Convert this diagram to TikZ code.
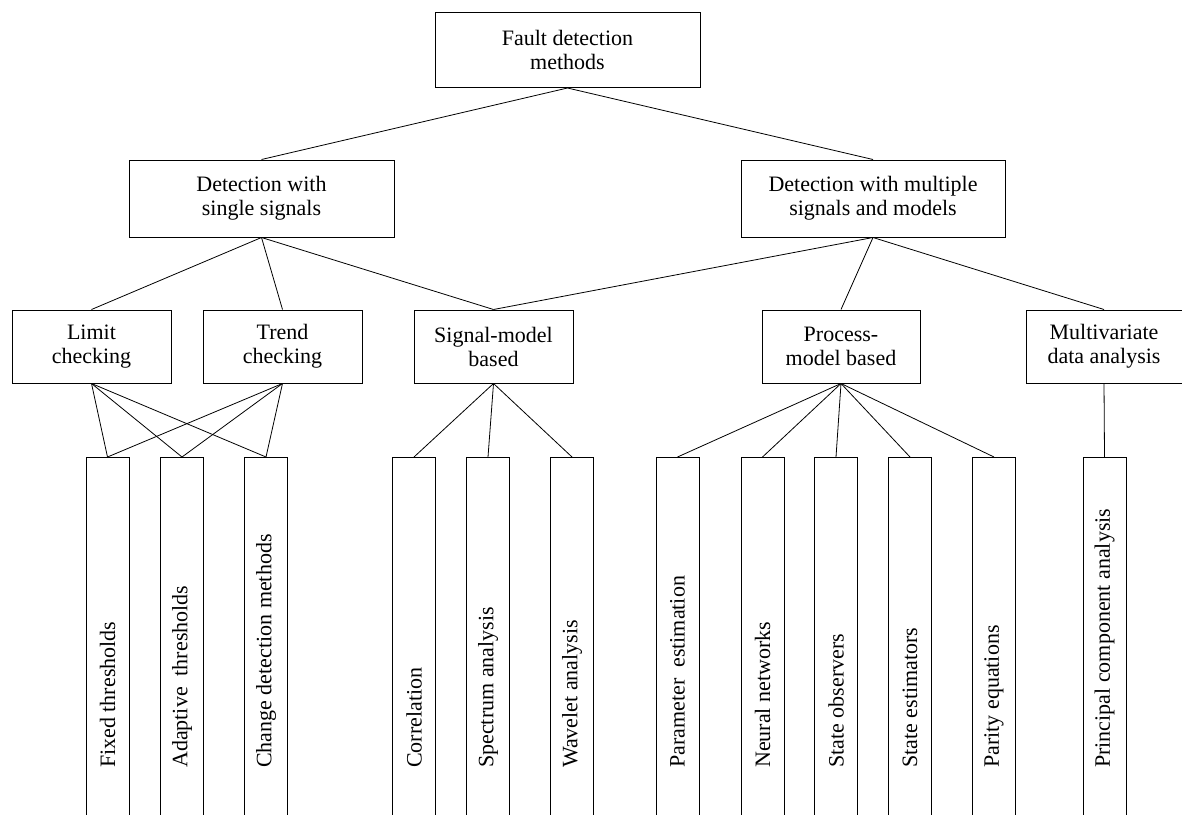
\documentclass[tikz,border=0pt]{standalone}
\usepackage{fontspec}
\setmainfont{Liberation Serif}
\usepackage{tikz}

\begin{document}
\begin{tikzpicture}[
    x=1pt, y=-1pt,
    every node/.style={font=\fontsize{22}{24}\selectfont},
    mainbox/.style={rectangle, draw=black, line width=1pt, minimum width=265pt, minimum height=75pt, align=center},
    subbox/.style={rectangle, draw=black, line width=1pt, minimum width=159pt, minimum height=73pt, align=center},
    leafbox/.style={rectangle, draw=black, line width=1pt, anchor=north, minimum width=43pt, minimum height=380pt},
    leaftext/.style={rotate=90, anchor=west, inner sep=0pt},
    link/.style={line width=0.8pt}]
\path[use as bounding box, clip] (0,0) rectangle (1182,814);
\node (top) [mainbox] at (567.5,50) {Fault detection\\methods};
\node (single) [mainbox, minimum height=77pt] at (261.5,198.5) {Detection with\\single signals};
\node (multi) [mainbox, minimum width=264pt, minimum height=77pt] at (873,198.5) {Detection with multiple\\signals and models};
\node (limit) [subbox] at (91.5,346.5) {Limit\\checking};
\node (trend) [subbox] at (282.5,346.5) {Trend\\checking};
\node (signal) [subbox] at (493.5,346.5) {Signal-model\\based};
\node (process) [subbox, minimum width=158pt] at (841,346.5) {Process-\\model based};
\node (multivar) [subbox, minimum width=156pt] at (1104,346.5) {Multivariate\\data analysis};
% leaves, open at the bottom of the page
\node (fixed) [leafbox] at (107.5,457) {};
\node (adaptive) [leafbox] at (182,457) {};
\node (change) [leafbox] at (266,457) {};
\node (corr) [leafbox] at (414,457) {};
\node (spectrum) [leafbox] at (488,457) {};
\node (wavelet) [leafbox] at (572,457) {};
\node (param) [leafbox] at (677.5,457) {};
\node (neural) [leafbox] at (762.5,457) {};
\node (observers) [leafbox] at (836,457) {};
\node (estimators) [leafbox] at (910,457) {};
\node (parity) [leafbox] at (994,457) {};
\node (pca) [leafbox] at (1104.5,457) {};
\node (fixed-t) [leaftext] at ([yshift=-311pt]fixed.north) {Fixed thresholds};
\node (adaptive-t) [leaftext] at ([yshift=-311pt]adaptive.north) {Adaptive\ \ thresholds};
\node (change-t) [leaftext] at ([yshift=-311pt]change.north) {Change detection methods};
\node (corr-t) [leaftext] at ([yshift=-311pt]corr.north) {Correlation};
\node (spectrum-t) [leaftext] at ([yshift=-311pt]spectrum.north) {Spectrum analysis};
\node (wavelet-t) [leaftext] at ([yshift=-311pt]wavelet.north) {Wavelet analysis};
\node (param-t) [leaftext] at ([yshift=-311pt]param.north) {Parameter\ \ estimation};
\node (neural-t) [leaftext] at ([yshift=-311pt]neural.north) {Neural networks};
\node (observers-t) [leaftext] at ([yshift=-311pt]observers.north) {State observers};
\node (estimators-t) [leaftext] at ([yshift=-311pt]estimators.north) {State estimators};
\node (parity-t) [leaftext] at ([yshift=-311pt]parity.north) {Parity equations};
\node (pca-t) [leaftext] at ([yshift=-311pt]pca.north) {Principal component analysis};
\draw [link] (top.south) -- (single.north);
\draw [link] (top.south) -- (multi.north);
\draw [link] (single.south) -- (limit.north);
\draw [link] (single.south) -- (trend.north);
\draw [link] (single.south) -- (signal.north);
\draw [link] (multi.south) -- (signal.north);
\draw [link] (multi.south) -- (process.north);
\draw [link] (multi.south) -- (multivar.north);
\draw [link] (limit.south) -- (fixed.north);
\draw [link] (limit.south) -- (adaptive.north);
\draw [link] (limit.south) -- (change.north);
\draw [link] (trend.south) -- (fixed.north);
\draw [link] (trend.south) -- (adaptive.north);
\draw [link] (trend.south) -- (change.north);
\draw [link] (signal.south) -- (corr.north);
\draw [link] (signal.south) -- (spectrum.north);
\draw [link] (signal.south) -- (wavelet.north);
\draw [link] (process.south) -- (param.north);
\draw [link] (process.south) -- (neural.north);
\draw [link] (process.south) -- (observers.north);
\draw [link] (process.south) -- (estimators.north);
\draw [link] (process.south) -- (parity.north);
\draw [link] (multivar.south) -- (pca.north);
\end{tikzpicture}
\end{document}
